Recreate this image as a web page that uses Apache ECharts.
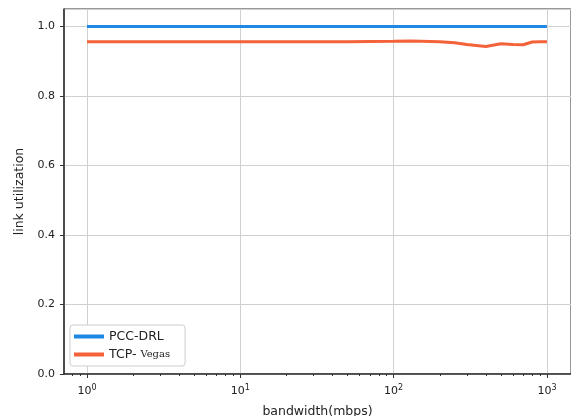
<!DOCTYPE html>
<html>
<head>
<meta charset="utf-8">
<script src="https://cdn.jsdelivr.net/npm/echarts@6/dist/echarts.min.js"></script>
<style>html,body{margin:0;padding:0;background:#fff}#c{width:571px;height:416px}</style>
</head>
<body>
<div id="c"></div>
<script>
var bandwidth = [1, 2, 5, 10, 20, 50, 100, 130, 200, 250, 300, 400, 500, 600, 700, 800, 900, 1000];
var pccDrl =    [1.0, 1.0, 1.0, 1.0, 1.0, 1.0, 1.0, 1.0, 1.0, 1.0, 1.0, 1.0, 1.0, 1.0, 1.0, 1.0, 1.0, 1.0];
var tcpVegas =  [0.956, 0.956, 0.956, 0.956, 0.956, 0.956, 0.957, 0.958, 0.956, 0.953, 0.948, 0.942, 0.950, 0.948, 0.947, 0.955, 0.956, 0.956];
var xTickExps = [0, 1, 2, 3];
var yTicks = [0, 0.2, 0.4, 0.6, 0.8, 1.0];

var minorTicks = [];
for (var d = -1; d <= 3; d++) {
  for (var m = 2; m <= 9; m++) {
    var v = d + Math.log10(m);
    if (v > -0.15 && v < 3.157) minorTicks.push(v);
  }
}
function toXY(ys) { return bandwidth.map(function (b, i) { return [Math.log10(b), ys[i]]; }); }

var font = 'DejaVu Sans';
var chart = echarts.init(document.getElementById('c'));
chart.setOption({
  animation: false,
  grid: { left: 64, top: 9, right: 0, bottom: 42, show: true, borderColor: '#333', borderWidth: 1,
    containLabel: false, outerBoundsMode: 'none' },
  legend: {
    left: 70, top: 325, orient: 'vertical', itemWidth: 30, itemHeight: 4, itemGap: 5,
    icon: 'rect', backgroundColor: '#fff', borderColor: '#ccc', borderWidth: 1, borderRadius: 3,
    padding: [5, 15, 5, 4],
    textStyle: { fontFamily: font, fontSize: 12.5, color: '#222',
      rich: { a: { fontFamily: font, fontSize: 12.5, color: '#222' }, s: { fontFamily: 'DejaVu Serif', fontSize: 10, color: '#222' } } },
    formatter: function (n) { return n === 'TCP-Vegas' ? '{a|TCP- }{s|Vegas}' : '{a|' + n + '}'; },
    data: ['PCC-DRL', 'TCP-Vegas']
  },
  xAxis: [{
    type: 'value', min: -0.15, max: 3.157,
    name: 'bandwidth(mbps)', nameLocation: 'middle', nameGap: 31,
    nameTextStyle: { fontFamily: font, fontSize: 12.5, color: '#222' },
    axisLine: { onZero: false, lineStyle: { color: '#333', width: 1.5 } },
    axisTick: { show: true, length: 4, inside: false, customValues: xTickExps, lineStyle: { color: '#333' } },
    axisLabel: {
      customValues: xTickExps, margin: 10, color: '#222', fontFamily: font, fontSize: 11,
      formatter: function (v) { return '{b|10}{s|' + Math.round(v) + '}'; },
      rich: { b: { fontFamily: font, fontSize: 11, color: '#222' }, s: { fontFamily: font, fontSize: 8, color: '#222', padding: [0, 0, 7, 0] } }
    },
    splitLine: { show: true, lineStyle: { color: '#d0d0d0', width: 1 } }
  }, {
    type: 'value', min: -0.15, max: 3.157, position: 'bottom',
    axisLine: { show: false, onZero: false },
    axisTick: { show: true, length: 2, customValues: minorTicks, lineStyle: { color: '#333' } },
    axisLabel: { show: false },
    splitLine: { show: false }
  }],
  yAxis: {
    type: 'value', min: 0, max: 1.05, interval: 0.2,
    name: 'link utilization', nameLocation: 'middle', nameGap: 38,
    nameTextStyle: { fontFamily: font, fontSize: 12.5, color: '#222' },
    axisLine: { show: true, onZero: false, lineStyle: { color: '#333', width: 1.5 } },
    axisTick: { show: true, length: 4, lineStyle: { color: '#333' } },
    axisLabel: { color: '#222', fontFamily: font, fontSize: 11, margin: 9, showMaxLabel: false,
      formatter: function (v) { return v.toFixed(1); } },
    splitLine: { show: true, lineStyle: { color: '#d0d0d0', width: 1 } }
  },
  series: [{
    name: 'PCC-DRL', type: 'line', data: toXY(pccDrl), symbol: 'none',
    lineStyle: { color: '#1E88E5', width: 3 }, itemStyle: { color: '#1E88E5' }
  }, {
    name: 'TCP-Vegas', type: 'line', data: toXY(tcpVegas), symbol: 'none',
    lineStyle: { color: '#F4623A', width: 3 }, itemStyle: { color: '#F4623A' }
  }]
});
</script>
</body>
</html>
